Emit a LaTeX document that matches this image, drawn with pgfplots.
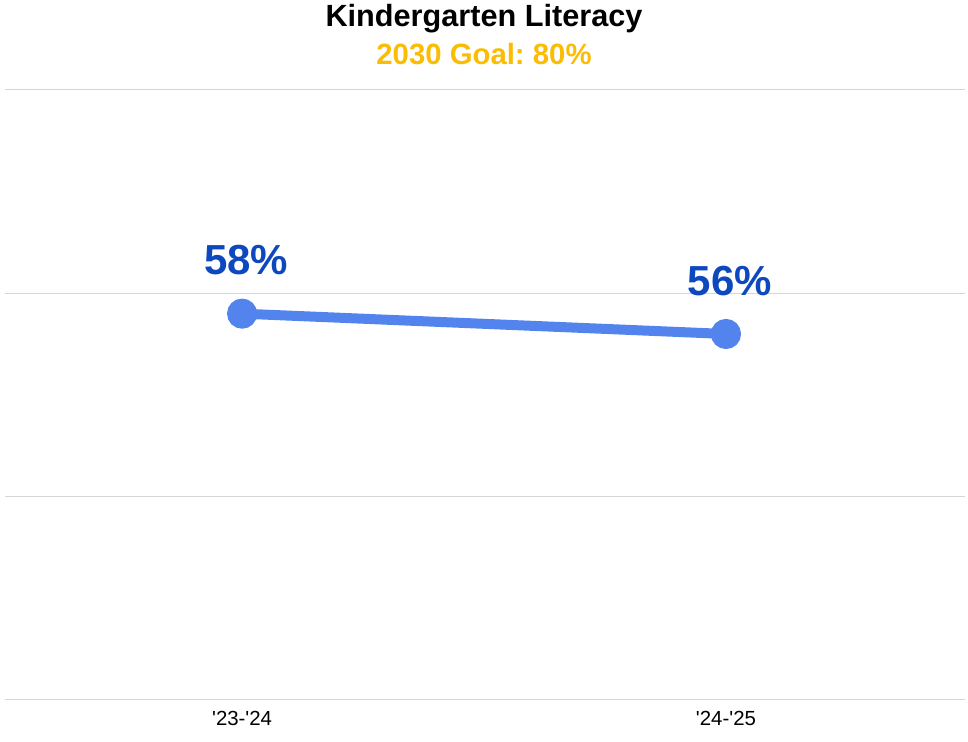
\documentclass[border=0pt]{standalone}
\usepackage{pgfplots}
\pgfplotsset{compat=1.18}
\usepackage{fontspec}
\setmainfont{Liberation Sans}[Ligatures=TeXOff]
\frenchspacing
\definecolor{lineblue}{RGB}{83,132,238}
\definecolor{labelblue}{RGB}{14,72,190}
\definecolor{goal}{RGB}{251,188,4}
\definecolor{gridgray}{RGB}{214,214,214}
\begin{document}
\begin{tikzpicture}
\begin{axis}[
    scale only axis,
    width=720pt, height=457.5pt,
    xmin=-0.49, xmax=1.494,
    ymin=20, ymax=80,
    xtick={0,1},
    xticklabels={'23-'24,'24-'25},
    ytick={20,40,60,80},
    yticklabels={},
    yticklabel style={overlay},
    ymajorgrids=true,
    grid style={gridgray, line width=0.75pt},
    axis line style={draw=none},
    tick style={draw=none},
    /pgf/number format/assume math mode=true,
    xticklabel style={font=\fontsize{15.3}{18}\selectfont, anchor=base, yshift=-19.5pt},
    clip=false,
    nodes near coords={\pgfmathprintnumber{\pgfplotspointmeta}\%},
    every node near coord/.append style={font=\fontsize{31.5}{36}\bfseries\selectfont, text=labelblue, anchor=base, yshift=29pt, xshift=3pt},
]
% invisible frame that fixes the page size
\path (rel axis cs:-0.00521,-0.06885) rectangle (rel axis cs:1.003125,1.14754);
\node[anchor=base, font=\fontsize{23}{27}\bfseries\selectfont] at (rel axis cs:0.499,1.1033) {Kindergarten Literacy};
\node[anchor=base, text=goal, font=\fontsize{22}{26}\bfseries\selectfont] at (rel axis cs:0.499,1.041) {2030 Goal: 80\%};

\addplot[color=lineblue, line width=7.5pt, mark=*, mark size=7.5pt,
    mark options={fill=lineblue, draw=none}]
    coordinates {(0,58) (1,56)};
\end{axis}
\end{tikzpicture}
\end{document}
